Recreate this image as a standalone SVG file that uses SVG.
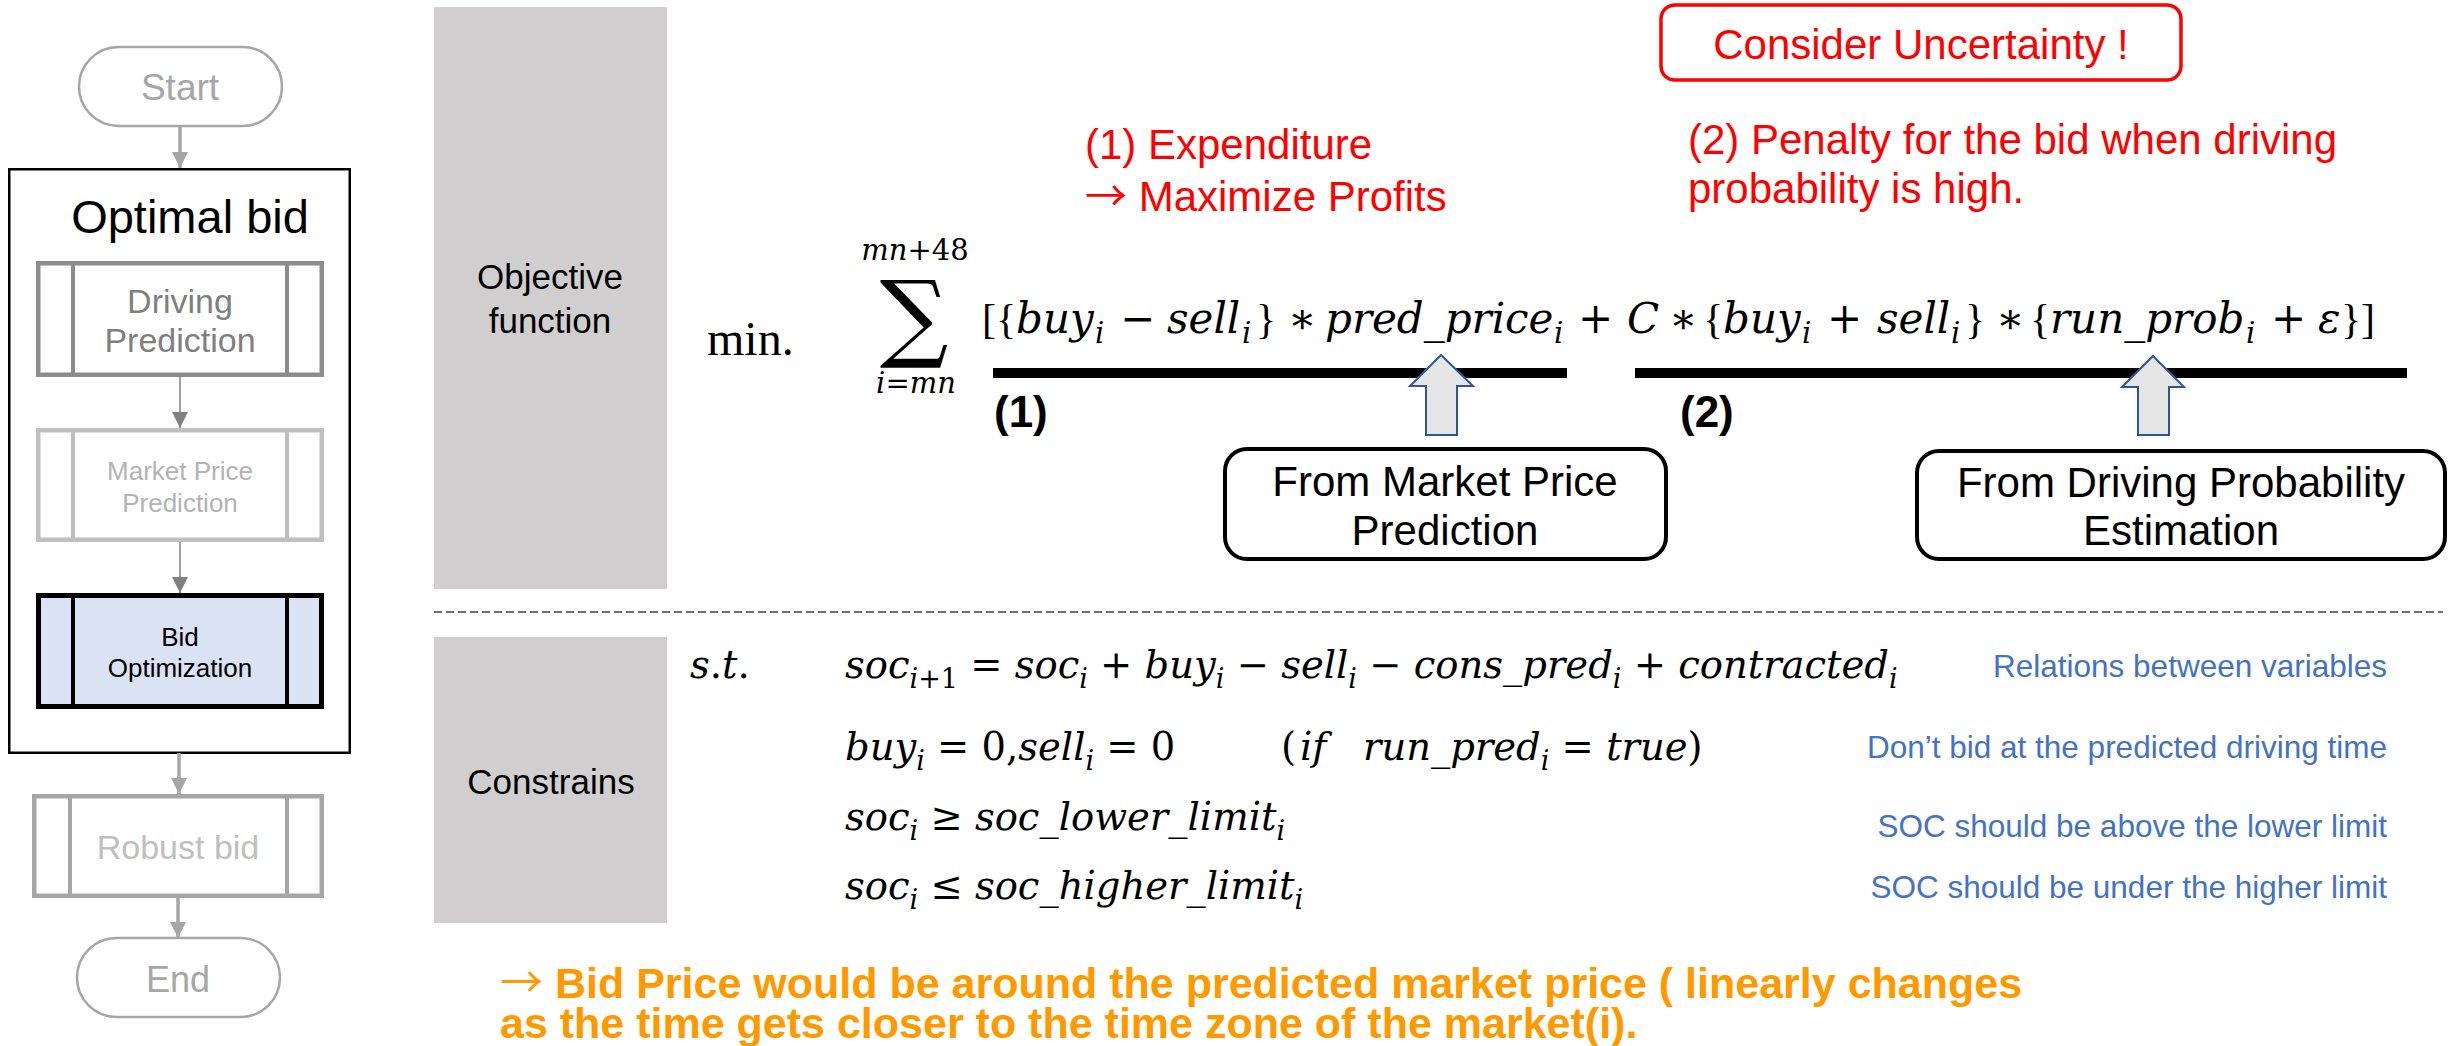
<svg xmlns="http://www.w3.org/2000/svg" width="2463" height="1046" viewBox="0 0 2463 1046">
<defs>
<style>
.sans{font-family:"Liberation Sans",Arial,sans-serif}
.arr{font-family:"Noto Sans CJK JP","Liberation Sans",sans-serif;font-weight:normal}
.mid{text-anchor:middle}
.end{text-anchor:end}
.math{font-family:"DejaVu Serif",serif;font-style:italic;fill:#000}
.up{font-style:normal}
.br{font-family:"Liberation Serif",serif;font-style:normal}
.red{fill:#ff0000;font-size:42px}
.blue{fill:#4472c4;font-size:31.5px}
.orange{fill:#ff9900;font-size:43px;font-weight:bold}
.pill{fill:#fff;stroke:#a6a6a6;stroke-width:2.5}
.gbox{fill:#d0cece}
.thick{stroke:#000;stroke-width:10}
.upar{fill:#e7e6e6;stroke:#2f5597;stroke-width:2}
.from{fill:#fff;stroke:#000;stroke-width:4}
.cg{stroke:#a6a6a6;stroke-width:3.5;fill:none}
.cd{stroke:#808080;stroke-width:1.5;fill:none}
</style>
<marker id="ahG" markerUnits="userSpaceOnUse" viewBox="0 0 16 16" markerWidth="16" markerHeight="16" refX="16" refY="8" orient="auto"><path d="M0,0 L16,8 L0,16 z" fill="#a6a6a6"/></marker>
<marker id="ahD" markerUnits="userSpaceOnUse" viewBox="0 0 16 16" markerWidth="16" markerHeight="16" refX="16" refY="8" orient="auto"><path d="M0,0 L16,8 L0,16 z" fill="#808080"/></marker>
</defs>
<rect width="2463" height="1046" fill="#fff"/>

<!-- Flowchart -->
<g id="start">
<rect class="pill" x="79" y="47" width="203" height="79" rx="39.5"/>
<text class="sans mid" x="180" y="100" font-size="37" fill="#a6a6a6">Start</text>
</g>
<g id="optimal-bid">
<rect x="9.25" y="169.25" width="340.5" height="583.5" fill="none" stroke="#000" stroke-width="2.5"/>
<text class="sans mid" x="190" y="233" font-size="47" fill="#000">Optimal bid</text>
</g>
<g id="driving-prediction">
<rect x="38.25" y="263.25" width="283.5" height="111.5" fill="#fff" stroke="#8c8c8c" stroke-width="4.5"/>
<line x1="73" y1="263" x2="73" y2="375" stroke="#8c8c8c" stroke-width="4"/>
<line x1="287" y1="263" x2="287" y2="375" stroke="#8c8c8c" stroke-width="4"/>
<text class="sans mid" x="180" y="313" font-size="34" fill="#7f7f7f">Driving</text>
<text class="sans mid" x="180" y="352" font-size="34" fill="#7f7f7f">Prediction</text>
</g>
<g id="market-price-prediction">
<rect x="38.25" y="430.25" width="283.5" height="109.5" fill="#fff" stroke="#bfbfbf" stroke-width="4.5"/>
<line x1="73" y1="430" x2="73" y2="540" stroke="#bfbfbf" stroke-width="4"/>
<line x1="287" y1="430" x2="287" y2="540" stroke="#bfbfbf" stroke-width="4"/>
<text class="sans mid" x="180" y="480" font-size="26" fill="#b3b3b3">Market Price</text>
<text class="sans mid" x="180" y="512" font-size="26" fill="#b3b3b3">Prediction</text>
</g>
<g id="bid-optimization">
<rect x="38.5" y="595.5" width="283" height="111" fill="#dae3f3" stroke="#000" stroke-width="5"/>
<line x1="73" y1="595" x2="73" y2="707" stroke="#000" stroke-width="4"/>
<line x1="287" y1="595" x2="287" y2="707" stroke="#000" stroke-width="4"/>
<text class="sans mid" x="180" y="646" font-size="26" fill="#000">Bid</text>
<text class="sans mid" x="180" y="677" font-size="26" fill="#000">Optimization</text>
</g>
<g id="robust-bid">
<rect x="34.25" y="796.25" width="287.5" height="99.5" fill="#fff" stroke="#a6a6a6" stroke-width="4.5"/>
<line x1="70" y1="796" x2="70" y2="896" stroke="#a6a6a6" stroke-width="4"/>
<line x1="287" y1="796" x2="287" y2="896" stroke="#a6a6a6" stroke-width="4"/>
<text class="sans mid" x="178" y="859" font-size="34" fill="#bfbfbf">Robust bid</text>
</g>
<g id="end">
<rect class="pill" x="77" y="938" width="203" height="79" rx="39.5"/>
<text class="sans mid" x="178" y="992" font-size="36" fill="#a6a6a6">End</text>
</g>

<g id="connectors">
<line class="cg" x1="180" y1="126" x2="180" y2="168" marker-end="url(#ahG)"/>
<line class="cd" x1="180" y1="377" x2="180" y2="428" marker-end="url(#ahD)"/>
<line class="cd" x1="180" y1="542" x2="180" y2="593" marker-end="url(#ahD)"/>
<line class="cg" x1="179" y1="753" x2="179" y2="794" marker-end="url(#ahG)"/>
<line class="cg" x1="178" y1="898" x2="178" y2="938" marker-end="url(#ahG)"/>
</g>

<!-- Objective function section -->
<g id="objective-label">
<rect class="gbox" x="434" y="7" width="233" height="582"/>
<text class="sans mid" x="550" y="289" font-size="35">Objective</text>
<text class="sans mid" x="550" y="333" font-size="35">function</text>
</g>

<g id="consider-uncertainty">
<rect x="1661" y="5" width="520" height="75" rx="14" fill="#fff" stroke="#ff0000" stroke-width="3.5"/>
<text class="sans mid red" x="1921" y="59">Consider Uncertainty !</text>
</g>

<g id="annotations">
<text class="sans red" x="1085" y="159">(1) Expenditure</text>
<text class="sans red" x="1085" y="211"><tspan class="arr">→</tspan> Maximize Profits</text>
<text class="sans red" x="1688" y="154">(2) Penalty for the bid when driving</text>
<text class="sans red" x="1688" y="203">probability is high.</text>
</g>

<g id="objective-formula">
<text x="707" y="355" font-family="Liberation Serif, serif" font-size="48">min.</text>
<text class="math up mid" x="914" y="349" font-size="96">∑</text>
<text class="math mid" x="915" y="260" font-size="29">mn<tspan class="up">+48</tspan></text>
<text class="math mid" x="916" y="393" font-size="29">i<tspan class="up">=</tspan>mn</text>
<text class="math" font-size="42"><tspan class="br" x="982" y="333">[</tspan><tspan class="br" x="996" y="333">{</tspan><tspan x="1016" y="333">buy</tspan><tspan x="1095" y="343" font-size="29">i</tspan><tspan class="up" x="1120" y="333">−</tspan><tspan x="1167" y="333">sell</tspan><tspan x="1242" y="343" font-size="29">i</tspan><tspan class="br" x="1256" y="333">}</tspan><tspan class="up" x="1288" y="333">∗</tspan><tspan x="1325" y="333">pred_price</tspan><tspan x="1554" y="343" font-size="29">i</tspan><tspan class="up" x="1578" y="333">+</tspan><tspan x="1627" y="333">C</tspan><tspan class="up" x="1669" y="333">∗</tspan><tspan class="br" x="1703" y="333">{</tspan><tspan x="1723" y="333">buy</tspan><tspan x="1802" y="343" font-size="29">i</tspan><tspan class="up" x="1827" y="333">+</tspan><tspan x="1877" y="333">sell</tspan><tspan x="1951" y="343" font-size="29">i</tspan><tspan class="br" x="1965" y="333">}</tspan><tspan class="up" x="1996" y="333">∗</tspan><tspan class="br" x="2030" y="333">{</tspan><tspan x="2050" y="333">run_prob</tspan><tspan x="2246" y="343" font-size="29">i</tspan><tspan class="up" x="2271" y="333">+</tspan><tspan x="2318" y="333">ε</tspan><tspan class="br" x="2341" y="333">}</tspan><tspan class="br" x="2361" y="333">]</tspan></text>
<line class="thick" x1="993" y1="373" x2="1567" y2="373"/>
<line class="thick" x1="1635" y1="373" x2="2407" y2="373"/>
<text class="sans" x="994" y="427" font-size="44" font-weight="bold">(1)</text>
<text class="sans" x="1680" y="427" font-size="44" font-weight="bold">(2)</text>
</g>

<g id="from-market-price">
<polygon class="upar" points="1441,355 1473,386 1457,386 1457,435 1426,435 1426,386 1410,386"/>
<rect class="from" x="1225" y="449" width="441" height="110" rx="22"/>
<text class="sans mid" x="1445" y="496" font-size="42">From Market Price</text>
<text class="sans mid" x="1445" y="545" font-size="42">Prediction</text>
</g>

<g id="from-driving-probability">
<polygon class="upar" points="2153,356 2184,387 2169,387 2169,435 2138,435 2138,387 2122,387"/>
<rect class="from" x="1917" y="451" width="528" height="108" rx="22"/>
<text class="sans mid" x="2181" y="497" font-size="42">From Driving Probability</text>
<text class="sans mid" x="2181" y="545" font-size="42">Estimation</text>
</g>

<line id="separator" x1="434" y1="612" x2="2443" y2="612" stroke="#404040" stroke-width="1.5" stroke-dasharray="8 4"/>

<!-- Constraints section -->
<g id="constraints-label">
<rect class="gbox" x="434" y="637" width="233" height="286"/>
<text class="sans mid" x="551" y="794" font-size="35">Constrains</text>
</g>

<g id="constraints">
<text class="math" x="690" y="678" font-size="38.5">s<tspan class="up">.</tspan>t<tspan class="up">.</tspan></text>
<text class="math" x="845" y="678" font-size="38.5" xml:space="preserve"><tspan>soc</tspan><tspan y="688" font-size="27">i<tspan class="up">+1</tspan></tspan><tspan class="up" y="678"> = </tspan><tspan>soc</tspan><tspan y="688" font-size="27">i</tspan><tspan class="up" y="678"> + </tspan><tspan>buy</tspan><tspan y="688" font-size="27">i</tspan><tspan class="up" y="678"> − </tspan><tspan>sell</tspan><tspan y="688" font-size="27">i</tspan><tspan class="up" y="678"> − </tspan><tspan>cons_pred</tspan><tspan y="688" font-size="27">i</tspan><tspan class="up" y="678"> + </tspan><tspan>contracted</tspan><tspan y="688" font-size="27">i</tspan></text>
<text class="math" x="845" y="760" font-size="38.5" xml:space="preserve"><tspan>buy</tspan><tspan y="770" font-size="27">i</tspan><tspan class="up" y="760"> = 0,</tspan><tspan>sell</tspan><tspan y="770" font-size="27">i</tspan><tspan class="up" y="760"> = 0</tspan><tspan class="up" x="1281">(</tspan><tspan x="1300">if</tspan><tspan x="1363">run_pred</tspan><tspan y="770" font-size="27">i</tspan><tspan class="up" y="760"> = </tspan><tspan>true</tspan><tspan class="up">)</tspan></text>
<text class="math" x="845" y="830" font-size="38.5" xml:space="preserve"><tspan>soc</tspan><tspan y="840" font-size="27">i</tspan><tspan class="up" y="830"> ≥ </tspan><tspan>soc_lower_limit</tspan><tspan y="840" font-size="27">i</tspan></text>
<text class="math" x="845" y="899" font-size="38.5" xml:space="preserve"><tspan>soc</tspan><tspan y="909" font-size="27">i</tspan><tspan class="up" y="899"> ≤ </tspan><tspan>soc_higher_limit</tspan><tspan y="909" font-size="27">i</tspan></text>
</g>

<g id="constraint-notes">
<text class="sans blue end" x="2387" y="677">Relations between variables</text>
<text class="sans blue end" x="2387" y="758">Don’t bid at the predicted driving time</text>
<text class="sans blue end" x="2387" y="837">SOC should be above the lower limit</text>
<text class="sans blue end" x="2387" y="898">SOC should be under the higher limit</text>
</g>

<g id="conclusion">
<text class="sans orange" x="500" y="998"><tspan class="arr">→</tspan> Bid Price would be around the predicted market price ( linearly changes</text>
<text class="sans orange" x="500" y="1038">as the time gets closer to the time zone of the market(i).</text>
</g>
</svg>
